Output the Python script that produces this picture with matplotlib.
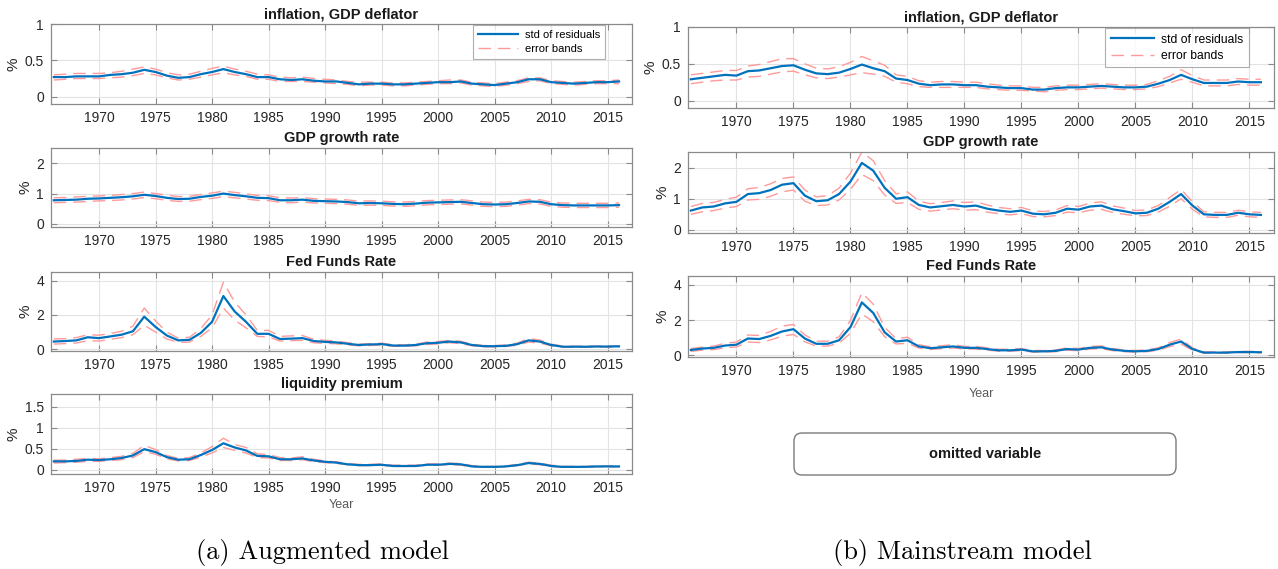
import numpy as np
import matplotlib
matplotlib.use('Agg')
import matplotlib.pyplot as plt
from matplotlib.patches import FancyBboxPatch
from matplotlib.ticker import FuncFormatter

plt.rcParams['font.family'] = ['Liberation Sans', 'DejaVu Sans']

# Años (datos anuales)
years = list(range(1966, 2017))

# ---- (a) Augmented model ----
aug_infl_mid = [.27, .27, .28, .28, .28, .30, .31, .33, .37, .34, .29, .26, .27, .31, .34, .38, .34, .31, .27, .27,
                .24, .23, .24, .22, .21, .21, .19, .17, .18, .18, .17, .17, .18, .19, .20, .20, .21, .18, .17, .16,
                .18, .20, .24, .24, .20, .19, .18, .19, .20, .20, .21]
aug_infl_lo = [.23, .24, .25, .25, .25, .26, .27, .29, .32, .30, .26, .23, .24, .27, .30, .33, .30, .28, .24, .24,
               .21, .21, .21, .20, .19, .18, .17, .15, .16, .16, .15, .15, .16, .17, .18, .18, .19, .16, .15, .14,
               .16, .18, .21, .22, .18, .17, .16, .17, .18, .18, .18]
aug_infl_hi = [.30, .31, .32, .32, .32, .33, .35, .38, .41, .38, .33, .30, .31, .35, .39, .42, .38, .35, .31, .30,
               .27, .26, .27, .25, .24, .23, .21, .20, .20, .20, .19, .19, .20, .21, .22, .23, .23, .20, .19, .18,
               .20, .22, .26, .26, .22, .21, .20, .21, .22, .22, .23]

aug_gdp_mid = [.78, .79, .80, .83, .84, .86, .88, .91, .96, .92, .86, .82, .83, .89, .93, 1.00, .95, .91, .86, .85,
               .78, .78, .80, .76, .75, .74, .72, .68, .69, .68, .66, .65, .67, .70, .71, .72, .73, .69, .65, .64,
               .65, .69, .74, .73, .65, .62, .61, .61, .61, .61, .62]
aug_gdp_lo = [.70, .71, .72, .74, .76, .77, .79, .82, .87, .83, .78, .74, .75, .80, .84, .90, .86, .82, .78, .77,
              .71, .70, .72, .69, .68, .67, .65, .61, .62, .61, .59, .58, .60, .63, .64, .65, .66, .62, .58, .57,
              .58, .62, .67, .66, .58, .55, .54, .54, .54, .54, .55]
aug_gdp_hi = [.86, .87, .89, .91, .92, .94, .97, 1.00, 1.05, 1.00, .95, .90, .91, .97, 1.02, 1.08, 1.04, .99, .94, .93,
              .86, .85, .87, .83, .82, .81, .79, .75, .76, .75, .73, .72, .74, .77, .78, .79, .80, .76, .72, .71,
              .72, .76, .81, .80, .72, .69, .68, .68, .68, .68, .69]

aug_ffr_mid = [.45, .48, .52, .70, .65, .75, .85, 1.05, 1.90, 1.30, .80, .52, .55, .95, 1.60, 3.10, 2.20, 1.60, .90, .90,
               .60, .62, .65, .48, .43, .40, .32, .25, .28, .30, .22, .21, .25, .35, .38, .45, .40, .25, .18, .18,
               .20, .30, .52, .45, .25, .15, .15, .15, .16, .16, .17]
aug_ffr_lo = [.30, .33, .37, .50, .48, .58, .68, .85, 1.40, 1.00, .60, .40, .42, .75, 1.25, 2.40, 1.70, 1.25, .75, .72,
              .48, .50, .52, .38, .34, .32, .25, .20, .22, .24, .17, .17, .20, .28, .31, .38, .33, .20, .14, .14,
              .16, .24, .42, .36, .20, .12, .12, .12, .13, .13, .14]
aug_ffr_hi = [.60, .62, .68, .85, .82, .92, 1.05, 1.35, 2.40, 1.65, 1.00, .65, .70, 1.20, 2.00, 3.90, 2.75, 2.00, 1.10, 1.10,
              .75, .78, .80, .58, .52, .48, .38, .30, .33, .36, .27, .26, .30, .42, .45, .52, .47, .30, .22, .22,
              .25, .36, .62, .54, .30, .19, .18, .18, .19, .19, .20]

aug_liq_mid = [.20, .20, .21, .24, .23, .25, .28, .34, .49, .42, .30, .24, .25, .35, .47, .63, .53, .46, .33, .32,
               .25, .25, .27, .22, .19, .17, .13, .11, .11, .12, .09, .09, .09, .12, .12, .14, .13, .08, .07, .07,
               .08, .11, .16, .14, .09, .07, .07, .07, .08, .08, .08]
aug_liq_lo = [.16, .17, .18, .20, .20, .22, .24, .29, .43, .37, .26, .21, .22, .30, .40, .53, .46, .40, .29, .28,
              .22, .22, .24, .19, .17, .15, .12, .10, .10, .11, .08, .08, .08, .11, .11, .12, .11, .07, .06, .06,
              .07, .10, .14, .12, .08, .06, .06, .06, .07, .07, .07]
aug_liq_hi = [.23, .23, .25, .27, .26, .29, .32, .39, .58, .48, .34, .27, .29, .40, .55, .75, .60, .53, .38, .36,
              .29, .28, .31, .25, .21, .19, .15, .13, .13, .14, .11, .11, .11, .14, .14, .16, .15, .10, .08, .08,
              .09, .13, .18, .16, .11, .08, .08, .08, .09, .09, .10]

# ---- (b) Mainstream model ----
mai_infl_mid = [.29, .31, .33, .35, .34, .40, .41, .44, .47, .48, .42, .37, .36, .38, .43, .49, .44, .40, .30, .28,
                .23, .21, .22, .22, .21, .21, .19, .18, .17, .17, .15, .15, .17, .18, .18, .19, .20, .19, .18, .18,
                .19, .23, .28, .35, .29, .24, .24, .24, .26, .25, .25]
mai_infl_lo = [.23, .25, .27, .28, .28, .32, .33, .36, .39, .40, .35, .31, .30, .32, .35, .38, .36, .33, .25, .23,
               .19, .18, .18, .18, .18, .18, .16, .15, .14, .14, .13, .12, .14, .15, .15, .16, .17, .16, .15, .15,
               .16, .19, .24, .29, .25, .20, .20, .20, .22, .21, .21]
mai_infl_hi = [.35, .37, .39, .41, .41, .47, .49, .53, .57, .57, .50, .44, .43, .46, .52, .60, .54, .48, .35, .33,
               .27, .25, .26, .26, .25, .25, .23, .21, .20, .20, .18, .18, .20, .21, .21, .22, .23, .22, .21, .21,
               .22, .27, .33, .42, .34, .28, .28, .28, .30, .29, .29]

mai_gdp_mid = [.62, .72, .75, .85, .90, 1.15, 1.18, 1.28, 1.45, 1.50, 1.10, .92, .95, 1.15, 1.55, 2.15, 1.90, 1.35, 1.00, 1.05,
               .80, .72, .76, .80, .75, .78, .68, .62, .58, .62, .52, .50, .55, .68, .65, .75, .78, .66, .60, .53,
               .55, .68, .90, 1.15, .78, .50, .48, .48, .55, .50, .48]
mai_gdp_lo = [.50, .58, .62, .70, .75, .96, .98, 1.08, 1.22, 1.28, .92, .78, .80, .96, 1.30, 1.78, 1.58, 1.12, .85, .88,
              .66, .60, .64, .68, .63, .65, .57, .52, .48, .52, .43, .42, .46, .57, .55, .63, .66, .56, .50, .45,
              .46, .57, .76, 1.00, .66, .42, .40, .40, .47, .42, .40]
mai_gdp_hi = [.75, .85, .88, .98, 1.05, 1.32, 1.36, 1.48, 1.65, 1.70, 1.28, 1.06, 1.10, 1.34, 1.82, 2.50, 2.22, 1.58, 1.16, 1.22,
              .92, .84, .88, .93, .88, .90, .80, .72, .68, .72, .61, .59, .64, .78, .75, .86, .90, .77, .70, .62,
              .64, .78, 1.04, 1.30, .90, .58, .56, .56, .63, .58, .56]

mai_ffr_mid = [.30, .38, .42, .55, .60, .95, .92, 1.10, 1.35, 1.48, .95, .65, .65, .85, 1.60, 3.00, 2.40, 1.30, .78, .85,
               .50, .40, .45, .50, .42, .42, .35, .28, .28, .32, .22, .22, .25, .35, .32, .42, .45, .32, .25, .22,
               .25, .35, .60, .78, .35, .15, .15, .15, .18, .18, .17]
mai_ffr_lo = [.22, .29, .32, .43, .47, .75, .72, .87, 1.08, 1.18, .76, .52, .52, .68, 1.25, 2.35, 1.90, 1.05, .64, .68,
              .41, .33, .37, .41, .35, .35, .29, .23, .23, .26, .18, .18, .20, .29, .26, .35, .37, .26, .20, .18,
              .20, .29, .49, .64, .29, .12, .12, .12, .15, .15, .14]
mai_ffr_hi = [.38, .46, .52, .68, .75, 1.15, 1.12, 1.35, 1.65, 1.75, 1.15, .80, .80, 1.05, 1.98, 3.55, 2.90, 1.58, .95, 1.02,
              .60, .48, .54, .60, .50, .50, .42, .34, .34, .38, .27, .27, .30, .42, .38, .50, .53, .38, .30, .27,
              .30, .42, .72, .92, .42, .19, .19, .19, .22, .22, .21]

xticks = [1970, 1975, 1980, 1985, 1990, 1995, 2000, 2005, 2010, 2015]

W, H = 1278, 569
fig = plt.figure(figsize=(W / 100, H / 100), dpi=100)

blue = '#0072BD'
pink = '#FF9A9A'
frame = '#8a8a8a'


def panel(left_px, right_px, top_px, bot_px, title, mid, lo, hi, ylim, yticks,
          legend=False, leg_fs=8, leg_right=None, xlabel=False, xlabelpad=3):
    ax = fig.add_axes([left_px / W, 1 - bot_px / H, (right_px - left_px) / W, (bot_px - top_px) / H])
    ax.plot(years, mid, color=blue, lw=1.6, label='std of residuals', zorder=3)
    ax.plot(years, lo, color=pink, lw=1.0, dashes=(9, 5), label='error bands', zorder=2)
    ax.plot(years, hi, color=pink, lw=1.0, dashes=(9, 5), zorder=2)
    ax.set_xlim(1965.75, 2017.15)
    ax.set_ylim(*ylim)
    ax.set_xticks(xticks)
    ax.set_yticks(yticks)
    ax.yaxis.set_major_formatter(FuncFormatter(lambda v, p: '%g' % v))
    ax.grid(True, color='#e3e3e3', lw=0.8)
    ax.set_axisbelow(True)
    for s in ax.spines.values():
        s.set_color(frame)
        s.set_linewidth(0.9)
    ax.tick_params(direction='in', length=4, width=0.8, color=frame, labelsize=10,
                   labelcolor='#262626', top=True, right=True, pad=5)
    ax.set_title(title, fontsize=10.5, fontweight='bold', color='#1a1a1a', pad=4)
    ax.set_ylabel('%', fontsize=11, color='#262626', labelpad=3)
    if legend:
        anchor_x = (leg_right - left_px) / (right_px - left_px)
        leg = ax.legend(loc='upper right', bbox_to_anchor=(anchor_x, 0.985), fontsize=leg_fs,
                        frameon=True, fancybox=False, edgecolor='#9a9a9a', borderaxespad=0.0,
                        handlelength=3.6, borderpad=0.45, labelspacing=0.35, handletextpad=0.6)
        leg.get_frame().set_linewidth(0.8)
    if xlabel:
        ax.set_xlabel('Year', fontsize=9, color='#5a5a5a', labelpad=xlabelpad)
    return ax


# (a) Augmented model
L0, L1 = 51, 632
panel(L0, L1, 24, 104, 'inflation, GDP deflator', aug_infl_mid, aug_infl_lo, aug_infl_hi,
      (-0.1, 1), [0, 0.5, 1], legend=True, leg_fs=8, leg_right=605)
panel(L0, L1, 148, 227, 'GDP growth rate', aug_gdp_mid, aug_gdp_lo, aug_gdp_hi,
      (-0.1, 2.5), [0, 1, 2])
panel(L0, L1, 272, 351, 'Fed Funds Rate', aug_ffr_mid, aug_ffr_lo, aug_ffr_hi,
      (-0.1, 4.5), [0, 2, 4])
panel(L0, L1, 394, 474, 'liquidity premium', aug_liq_mid, aug_liq_lo, aug_liq_hi,
      (-0.1, 1.8), [0, 0.5, 1, 1.5], xlabel=True)

# (b) Mainstream model
R0, R1 = 688, 1274
panel(R0, R1, 27, 108, 'inflation, GDP deflator', mai_infl_mid, mai_infl_lo, mai_infl_hi,
      (-0.1, 1), [0, 0.5, 1], legend=True, leg_fs=8.7, leg_right=1249)
panel(R0, R1, 152, 233, 'GDP growth rate', mai_gdp_mid, mai_gdp_lo, mai_gdp_hi,
      (-0.1, 2.5), [0, 1, 2])
panel(R0, R1, 276, 357, 'Fed Funds Rate', mai_ffr_mid, mai_ffr_lo, mai_ffr_hi,
      (-0.1, 4.5), [0, 2, 4], xlabel=True, xlabelpad=7)

# caja "omitted variable"
bx0, bx1, by0, by1 = 794, 1176, 433, 475
box = FancyBboxPatch((bx0 / W, 1 - by1 / H), (bx1 - bx0) / W, (by1 - by0) / H,
                     boxstyle='round,pad=0,rounding_size=%f' % (8 / W),
                     mutation_aspect=W / H, transform=fig.transFigure,
                     facecolor='white', edgecolor='#7a7a7a', lw=1.0)
fig.add_artist(box)
fig.text((bx0 + bx1) / 2 / W, 1 - (by0 + by1) / 2 / H, 'omitted variable',
         ha='center', va='center', fontsize=10.5, fontweight='bold', color='#1a1a1a')

# subtítulos
fig.text(323 / W, 1 - 553 / H, '(a) Augmented model', ha='center', va='center',
         fontsize=19, family='cmr10')
fig.text(962 / W, 1 - 553 / H, '(b) Mainstream model', ha='center', va='center',
         fontsize=19, family='cmr10')

fig.savefig('out.png', dpi=100)
